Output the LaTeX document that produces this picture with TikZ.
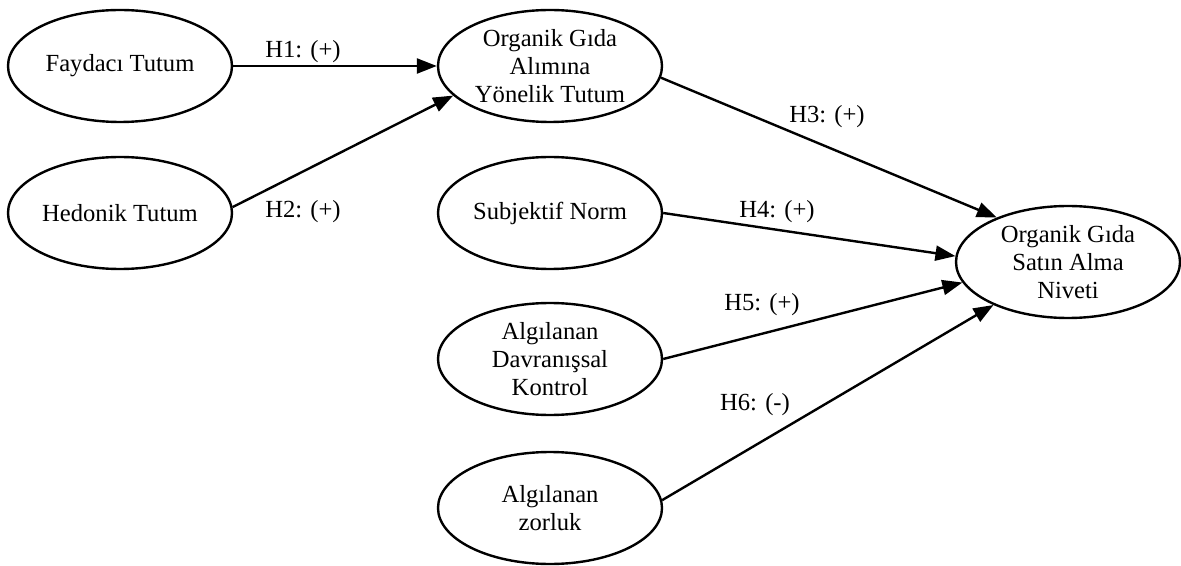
\documentclass[tikz,border=0pt]{standalone}
\usepackage{fontspec}
\setmainfont{Liberation Serif}
\usetikzlibrary{shapes.geometric,arrows.meta}
\begin{document}
\begin{tikzpicture}[x=0.5pt,y=-0.5pt,line width=1.2pt,
  construct/.style={draw,ellipse,minimum width=112pt,minimum height=56pt,inner sep=0pt,align=center,font=\fontsize{12.3}{13.8}\selectfont},
  hyparrow/.style={-{Triangle[length=10pt,width=7.5pt]}},
  hyplabel/.style={font=\fontsize{12.3}{13.8}\selectfont,inner sep=1pt}]
\useasboundingbox (0,0) rectangle (1181,566);
\node[construct] (fay) at (120,66) {Faydacı Tutum};
\node[construct] (hed) at (120,213) {Hedonik Tutum};
\node[construct] (org) at (550,66) {Organik Gıda\\Alımına\\Yönelik Tutum};
\node[construct] (sub) at (550,213) {Subjektif Norm};
\node[construct] (adk) at (550,359) {Algılanan\\Davranışsal\\Kontrol};
\node[construct] (zor) at (550,508) {Algılanan\\zorluk};
\node[construct] (niy) at (1068,262) {Organik Gıda\\Satın Alma\\Niveti};
\draw[hyparrow] (fay.east) -- (org.west);
\draw[hyparrow] (hed.3) -- (org.197);
\draw[hyparrow] (org.-6) -- (niy.148);
\draw[hyparrow] (sub.east) -- (niy.177);
\draw[hyparrow] (adk.east) -- (niy.191);
\draw[hyparrow] (zor.4) -- (niy.210);
\node[hyplabel] (h1) at (303,52) {H1: (+)};
\node[hyplabel] (h2) at (303,212) {H2: (+)};
\node[hyplabel] (h3) at (827,117) {H3: (+)};
\node[hyplabel] (h4) at (777,212) {H4: (+)};
\node[hyplabel] (h5) at (762,305) {H5: (+)};
\node[hyplabel] (h6) at (755,405) {H6: (-)};
\end{tikzpicture}
\end{document}
